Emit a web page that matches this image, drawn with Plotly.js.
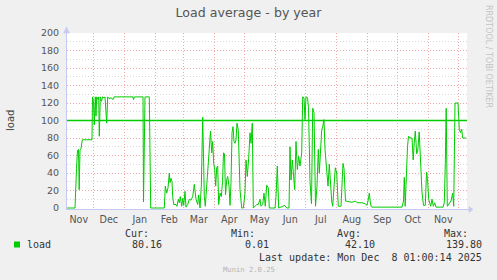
<!DOCTYPE html>
<html><head><meta charset="utf-8">
<script src="https://cdn.plot.ly/plotly-3.0.1.min.js"></script>
<style>html,body{margin:0;padding:0;background:#f0f0f0;}#chart{width:497px;height:280px;}</style>
</head><body><div id="chart"></div>
<script>
// days since the left edge of the graph (2024-11-04 17:00)
const day = [
 0, 8, 9.5, 10.5, 11.5, 12.2, 13, 14, 15.3, 25,
 25.5, 26.5, 27.3, 28.3, 29, 29.7, 31, 31.7, 32.3, 33.3,
 34.5, 35.5, 37, 38, 39.7, 40.7, 42, 44, 46, 47,
 66, 66.5, 67.5, 76, 76.5, 78, 82.3, 83.7,
 97.3, 98.3, 99.7, 101, 102.3, 103, 104, 105, 105.7, 106.7,
 109, 110, 111.3, 112.3, 113.3, 114.7, 115.7, 116.7, 118, 119,
 120.7, 122.3, 124, 125.7, 127.3, 129, 130.7, 131.7, 133, 134.3,
 135.7, 137.3, 138.3, 139.7, 141, 142.3, 143.5, 144.7, 145.7, 146.7,
 147.7, 148.7, 149.7, 150.7, 151.7, 153, 154.3, 155.5, 156.5, 157.5,
 158.5, 159.7, 160.7, 162, 163, 164, 165, 166, 167, 168,
 169, 170, 171.3, 173, 174.7, 176.3, 178, 179, 180.3, 181.7,
 183, 184, 185.3, 186.3, 189.7, 191.3, 193, 194, 195.7, 197,
 198.3, 199.7, 201.3, 202.3, 208, 209, 210.3, 211.7, 216.3, 217.7,
 219.7, 222, 223, 224, 225.3, 226.3, 227.7, 229, 230.3, 231.7,
 233, 234.7, 235.7, 237, 238, 239, 240.5, 241.5, 243, 244.5,
 245.7, 247, 248.5, 250, 251.3, 252.3, 253.7, 254.7, 255.7, 257,
 258, 259.7, 261, 262.3, 263.7, 264.7, 265.7, 267, 268.3, 269.7,
 271.3, 274, 276, 277, 278.5, 285, 288.5, 290, 295, 298,
 300, 301, 302.3, 303.3, 304, 305, 335, 336.5, 337.3, 338.2,
 339.5, 340.5, 341.5, 343, 345, 346.2, 347.2, 348.3, 349.7, 350.7,
 352.2, 353.5, 355, 356.5, 358.3, 359.5, 360.5, 361.7, 362.7, 363.7,
 365, 366.3, 367.7, 369, 376, 377.3, 378.3, 379.2, 380.3, 382.3,
 384, 385.7, 386.7, 388, 391, 392.3, 393.5, 394.7, 395.7, 399
];
const load = [
 0, 0, 45, 66, 67, 21, 66, 68, 78, 78,
 127, 122, 95, 127, 105, 127, 124, 127, 82, 127,
 122, 127, 126, 127, 97, 127, 125, 126, 124, 127,
 127, 124, 127, 127, 7, 127, 127, 0,
 0, 25, 17, 23, 40, 29, 34, 30, 13, 4,
 4, 2, 10, 6, 13, 2, 11, 3, 19, 1,
 4, 10, 9, 13, 27, 10, 4, 15, 0, 25,
 104, 13, 2, 25, 36, 67, 88, 63, 76, 51,
 44, 25, 46, 48, 4, 17, 13, 30, 63, 62,
 15, 32, 36, 25, 3, 29, 86, 93, 76, 74,
 78, 97, 89, 21, 0, 0, 17, 55, 36, 57,
 86, 74, 97, 0, 4, 4, 10, 2, 4, 17,
 2, 26, 23, 0, 0, 13, 48, 0, 2, 3,
 0, 0, 70, 32, 55, 44, 21, 76, 44, 59,
 48, 63, 127, 126, 101, 127, 126, 115, 30, 5,
 114, 109, 2, 25, 67, 40, 78, 89, 93, 101,
 67, 40, 25, 50, 17, 8, 2, 32, 46, 40,
 2, 2, 51, 45, 8, 6.5, 8, 6, 6, 5,
 3, 8, 17, 7, 2, 1, 1, 8, 35, 2,
 51, 70, 82, 80, 80, 55, 74, 88, 62, 65,
 87, 50, 18, 3, 3, 41, 34, 10, 7, 2,
 10, 2, 6, 1, 1, 6, 51, 114, 2, 6,
 8, 17, 2, 120, 120, 90, 86, 90, 80, 80
];
const warning = 100;
const monthStarts = ['2024-12-01','2025-01-01','2025-02-01','2025-03-01','2025-04-01','2025-05-01','2025-06-01','2025-07-01','2025-08-01','2025-09-01','2025-10-01','2025-11-01','2025-12-01'];
const monthMids = ['2024-11-16 12:00','2024-12-16 12:00','2025-01-16 12:00','2025-02-15','2025-03-16 12:00','2025-04-16','2025-05-16 12:00','2025-06-16','2025-07-16 12:00','2025-08-16 12:00','2025-09-16','2025-10-16 12:00','2025-11-16'];
const monthLabels = ['Nov','Dec','Jan','Feb','Mar','Apr','May','Jun','Jul','Aug','Sep','Oct','Nov'];
const statLabels = ['Cur:','Min:','Avg:','Max:'];
const statValues = ['80.16','0.01','42.10','139.80'];

const DAY = 86400000;
const t0 = Date.UTC(2024,10,4,17,0);
const t1 = t0 + 400*DAY;
const xs = day.map(d => t0 + d*DAY);

// pixel -> paper helpers for the text block around the plot
const L = 67, T = 33, W = 400, H = 176;
const px = x => (x - L)/W;
const py = y => (T + H - y)/H;

const green = '#00cc00';
const mono = 'DejaVu Sans Mono';
const sans = 'DejaVu Sans';

const traces = [
  {x: xs, y: load, type:'scatter', mode:'lines', line:{color:green, width:1}, hoverinfo:'skip', xaxis:'x'},
  {x: [t0, t1], y: [warning, warning], type:'scatter', mode:'lines', line:{color:green, width:1.3}, hoverinfo:'skip', xaxis:'x2'}
];

function ann(text, x, y, o){
  return Object.assign({text, xref:'paper', yref:'paper', x:px(x), y:py(y), xanchor:'left', yanchor:'middle',
    showarrow:false, borderpad:0, font:{family:mono, size:10, color:'#333'}}, o||{});
}
const annotations = [
  ann('load', 26, 244.5),
  ann('load', 10, 121, {xanchor:'center', textangle:-90, font:{family:sans, size:10, color:'#444'}}),
  ann('RRDTOOL / TOBI OETIKER', 489, 56, {xanchor:'center', textangle:90, font:{family:sans, size:8, color:'#c4c4c4'}}),
  ann('Last update: Mon Dec \u00a08 01:00:14 2025', 483, 257.5, {xanchor:'right'}),
  ann('Munin 2.0.25', 249, 269.5, {xanchor:'center', font:{family:mono, size:7.2, color:'#b4b4b4'}})
];
const labRight = [150, 256, 362, 469];
const valRight = [163, 270, 376, 483];
statLabels.forEach((s,i)=>annotations.push(ann(s, labRight[i], 233.5, {xanchor:'right'})));
statValues.forEach((s,i)=>annotations.push(ann(s, valRight[i], 244.5, {xanchor:'right'})));

const axisCol = '#c8c8f4';
const shapes = [
  {type:'rect', xref:'paper', yref:'paper', x0:px(14), x1:px(20), y0:py(241.5), y1:py(247.5), fillcolor:green, line:{width:0}},
  {type:'path', xref:'paper', yref:'paper', path:`M ${px(467)} ${py(209.5)} L ${px(469)} ${py(209.5)}`, line:{color:axisCol, width:1}},
  {type:'path', xref:'paper', yref:'paper', path:`M ${px(469)} ${py(206.5)} L ${px(473)} ${py(209.5)} L ${px(469)} ${py(212.5)} Z`, fillcolor:axisCol, line:{color:axisCol, width:0.5}},
  {type:'path', xref:'paper', yref:'paper', path:`M ${px(63.5)} ${py(33)} L ${px(66.5)} ${py(27)} L ${px(69.5)} ${py(33)} Z`, fillcolor:axisCol, line:{color:axisCol, width:0.5}}
];

const grid = '#f0a8a8';
const layout = {
  width:497, height:280,
  paper_bgcolor:'#f0f0f0', plot_bgcolor:'#ffffff',
  margin:{l:L, r:497-L-W, t:T, b:280-T-H, pad:0},
  showlegend:false,
  title:{text:'Load average - by year', x:0.5, xref:'container', xanchor:'center', y:1-13/280, yref:'container', yanchor:'middle',
    font:{family:sans, size:12.6, color:'#555'}},
  xaxis:{type:'date', range:[t0,t1], tickmode:'array', tickvals:monthStarts, showticklabels:false, ticks:'',
    showgrid:true, gridcolor:grid, griddash:'1px,2px', gridwidth:1, zeroline:false,
    showline:true, linecolor:axisCol, linewidth:1, layer:'below traces', fixedrange:true},
  xaxis2:{type:'date', range:[t0,t1], overlaying:'x', anchor:'y', side:'bottom', tickmode:'array', tickvals:monthMids, ticktext:monthLabels,
    showgrid:false, zeroline:false, showline:false, ticks:'', ticklabelstandoff:3, tickfont:{family:sans, size:9.6, color:'#555'}, fixedrange:true},
  yaxis:{range:[-200/175, 200], tickmode:'linear', tick0:0, dtick:20, ticks:'', ticklabelstandoff:5,
    tickfont:{family:sans, size:9.5, color:'#555'},
    showgrid:true, gridcolor:grid, griddash:'1px,2px', gridwidth:1, zeroline:false,
    minor:{dtick:10, tick0:0, showgrid:true, gridcolor:'#d8d8d8', griddash:'1px,2px', gridwidth:1, ticks:''},
    showline:true, linecolor:axisCol, linewidth:1, layer:'below traces', fixedrange:true},
  annotations, shapes
};
Plotly.newPlot('chart', traces, layout, {displayModeBar:false, staticPlot:true});
</script></body></html>
